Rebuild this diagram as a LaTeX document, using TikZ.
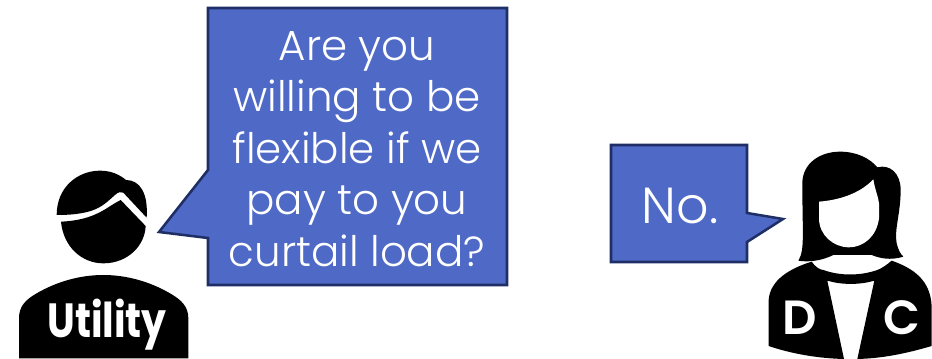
\documentclass[tikz,border=0pt]{standalone}
\usepackage{fontspec}
\setmainfont{Poppins}
\newfontfamily\lightfont{Poppins Light}
\newfontfamily\medfont{Poppins SemiBold}
\definecolor{bub}{HTML}{4F69C6}
\definecolor{bubl}{HTML}{1F2F66}
\tikzset{
  bubble/.style={fill=bub,draw=bubl,line width=1.9pt,line join=miter},
  bubtext/.style={text=white,font=\lightfont\fontsize{31.5}{38.6}\selectfont,align=center,inner sep=0pt},
  figtext/.style={text=white,font=\fontsize{36}{40}\selectfont\bfseries,inner sep=0pt},
  lettertext/.style={text=white,font=\medfont\fontsize{36}{40}\selectfont,inner sep=0pt},
  ink/.style={fill=black,draw=none},
  gap/.style={fill=white,draw=none}
}
\begin{document}
\begin{tikzpicture}[x=0.75pt,y=-0.75pt]
\useasboundingbox (0,0) rectangle (932,359);
% bubbles
\draw[bubble] (208,8) -- (507,8) -- (507,285) -- (208,285) -- (208,238) -- (159,232) -- (208,170) -- cycle;
\node[bubtext] (q) at (357,149) {Are you\\willing to be\\flexible if we\\pay to you\\curtail load?};
\draw[bubble] (611,145) -- (747,145) -- (747,213) -- (783,219) -- (747,242) -- (747,262) -- (611,262) -- cycle;
\node[bubtext,font=\lightfont\fontsize{38}{44}\selectfont] (no) at (680,206) {No.};
% man
\begin{scope}[shift={(0,150)},x=0.25pt,y=-0.25pt]
\fill[ink] (183,215) .. controls (190,290) and (245,340) .. (310,340) .. controls (385,340) and (435,285) .. (437,228) -- (362,150) .. controls (320,170) and (290,210) .. (183,215) -- cycle;
\fill[ink] (170,195) .. controls (170,110) and (235,62) .. (300,62) .. controls (335,62) and (360,75) .. (378,90) .. controls (420,90) and (445,130) .. (440,203) -- (370,128) .. controls (362,124) and (355,126) .. (345,135) .. controls (310,165) and (290,195) .. (170,195) -- cycle;
\fill[ink] (57,625) -- (57,505) .. controls (57,470) and (75,450) .. (110,430) .. controls (170,395) and (240,375) .. (310,375) .. controls (380,375) and (450,395) .. (510,430) .. controls (545,450) and (565,470) .. (565,505) -- (565,625) -- cycle;
\end{scope}
\node[figtext,xscale=0.82] (u) at (107,325) {Utility};
% woman
\begin{scope}[shift={(740,140)},x=0.25pt,y=-0.25pt]
\fill[ink] (175,362) .. controls (195,330) and (187,280) .. (187,130) .. controls (187,70) and (240,35) .. (300,35) .. controls (350,35) and (390,55) .. (412,82) .. controls (450,72) and (482,100) .. (482,150) .. controls (482,220) and (462,270) .. (470,310) .. controls (475,330) and (480,340) .. (490,350) .. controls (450,362) and (420,355) .. (395,345) -- (280,345) .. controls (250,360) and (210,368) .. (175,362) -- cycle;
\fill[gap] (237,185) .. controls (300,180) and (360,160) .. (400,118) .. controls (405,150) and (415,170) .. (417,190) -- (417,235) .. controls (410,290) and (370,322) .. (327,322) .. controls (280,322) and (237,285) .. (237,235) -- cycle;
\fill[gap] (282,345) .. controls (320,358) and (355,355) .. (385,345) .. controls (390,365) and (400,378) .. (412,385) .. controls (360,400) and (300,400) .. (250,385) .. controls (265,378) and (278,365) .. (282,345) -- cycle;
\fill[ink] (215,365) .. controls (225,380) and (240,390) .. (250,390) .. controls (300,408) and (360,408) .. (412,390) .. controls (425,385) and (440,375) .. (455,362) .. controls (520,385) and (572,420) .. (575,500) -- (575,618) .. controls (500,640) and (430,655) .. (352,657) -- (403,422) .. controls (360,435) and (305,435) .. (262,422) -- (312,657) .. controls (230,655) and (150,640) .. (86,618) -- (86,480) .. controls (90,420) and (150,385) .. (215,365) -- cycle;
\end{scope}
\node[lettertext] (d) at (800,318) {D};
\node[lettertext] (c) at (902,318) {C};
\end{tikzpicture}
\end{document}
